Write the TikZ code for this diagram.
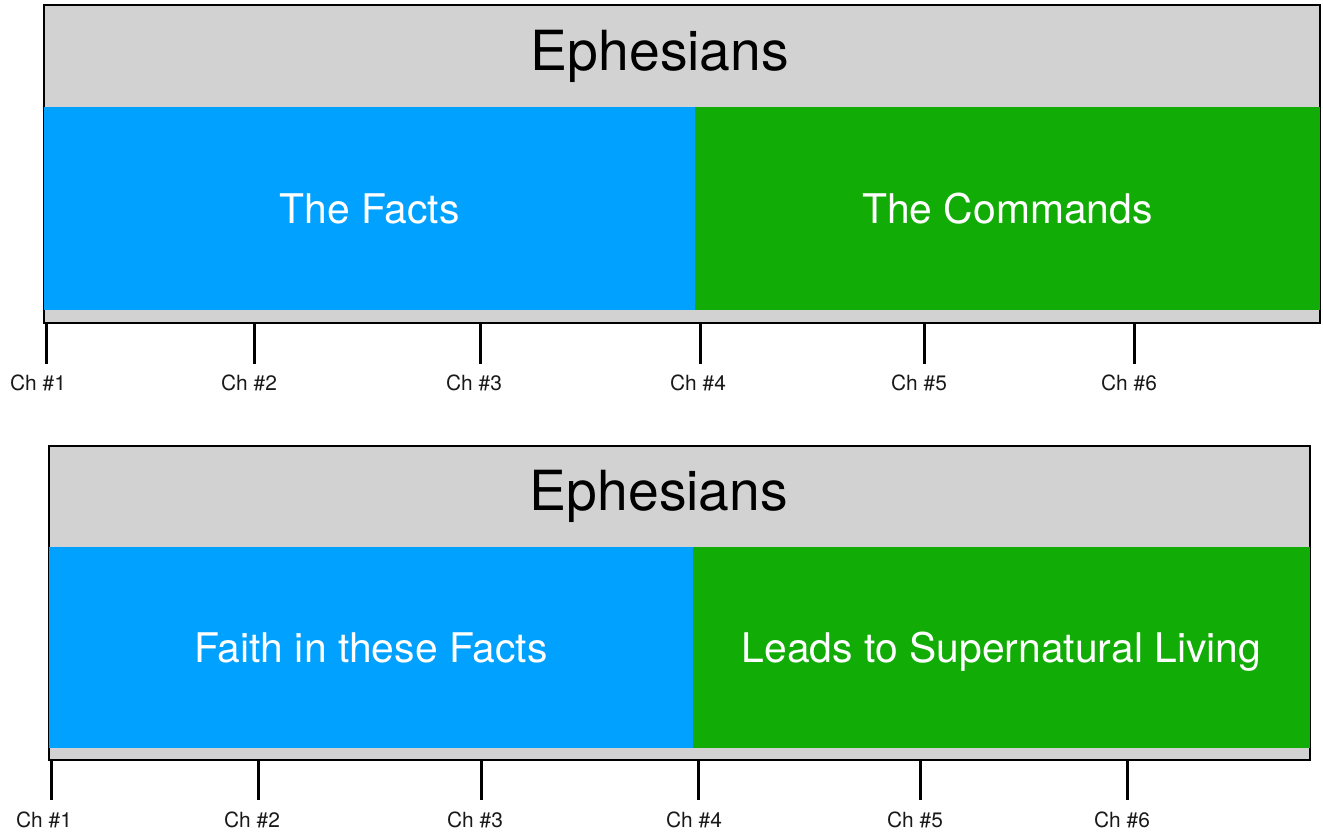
\documentclass[tikz,border=0pt]{standalone}
\usepackage{fontspec}
\setmainfont{TeX Gyre Heros}
\definecolor{factblue}{RGB}{0,161,255}
\definecolor{cmdgreen}{RGB}{18,172,6}
\definecolor{titlegray}{RGB}{210,210,210}

\begin{document}
\begin{tikzpicture}[x=1bp, y=-1bp,
    panel/.style={fill=titlegray, draw=black, line width=2bp},
    band/.style={inner sep=0pt, outer sep=0pt, text=white, text height=30bp, text depth=0bp,
      font=\fontsize{41}{48}\selectfont},
    booktitle/.style={font=\fontsize{55.5}{62}\selectfont},
    tick/.style={line width=3bp},
    chlabel/.style={font=\fontsize{21}{25}\selectfont, text=black!90}]
  \useasboundingbox (0,0) rectangle (1323,832);

  % upper chart
  \draw[panel] (44,5) rectangle (1320,323);
  \node[booktitle] (title1) at (660,56) {Ephesians};
  \node[band, fill=factblue, minimum width=651bp, minimum height=203bp] (facts) at (369.5,208.5) {The Facts};
  \node[band, fill=cmdgreen, minimum width=625bp, minimum height=203bp] (commands) at (1007.5,208.5) {The Commands};

  \draw[tick] (46,323) -- (46,364);
  \draw[tick] (254,323) -- (254,364);
  \draw[tick] (480,323) -- (480,364);
  \draw[tick] (700,323) -- (700,364);
  \draw[tick] (924,323) -- (924,364);
  \draw[tick] (1134,323) -- (1134,364);
  \node[chlabel] (a1) at (38,383) {Ch \#1};
  \node[chlabel] (a2) at (249,383) {Ch \#2};
  \node[chlabel] (a3) at (474,383) {Ch \#3};
  \node[chlabel] (a4) at (698,383) {Ch \#4};
  \node[chlabel] (a5) at (919,383) {Ch \#5};
  \node[chlabel] (a6) at (1129,383) {Ch \#6};

  % lower chart
  \draw[panel] (49,446) rectangle (1310,760);
  \node[booktitle] (title2) at (659,496) {Ephesians};
  \node[band, fill=factblue, minimum width=644bp, minimum height=201bp] (faith) at (371,647.5) {Faith in these Facts};
  \node[band, fill=cmdgreen, minimum width=617bp, minimum height=201bp] (living) at (1001.5,647.5) {Leads to Supernatural Living};

  \draw[tick] (51,760) -- (51,800);
  \draw[tick] (258,760) -- (258,800);
  \draw[tick] (481,760) -- (481,800);
  \draw[tick] (698,760) -- (698,800);
  \draw[tick] (920,760) -- (920,800);
  \draw[tick] (1127,760) -- (1127,800);
  \node[chlabel] (b1) at (44,820) {Ch \#1};
  \node[chlabel] (b2) at (252,820) {Ch \#2};
  \node[chlabel] (b3) at (475,820) {Ch \#3};
  \node[chlabel] (b4) at (694,820) {Ch \#4};
  \node[chlabel] (b5) at (915,820) {Ch \#5};
  \node[chlabel] (b6) at (1122,820) {Ch \#6};
\end{tikzpicture}
\end{document}
